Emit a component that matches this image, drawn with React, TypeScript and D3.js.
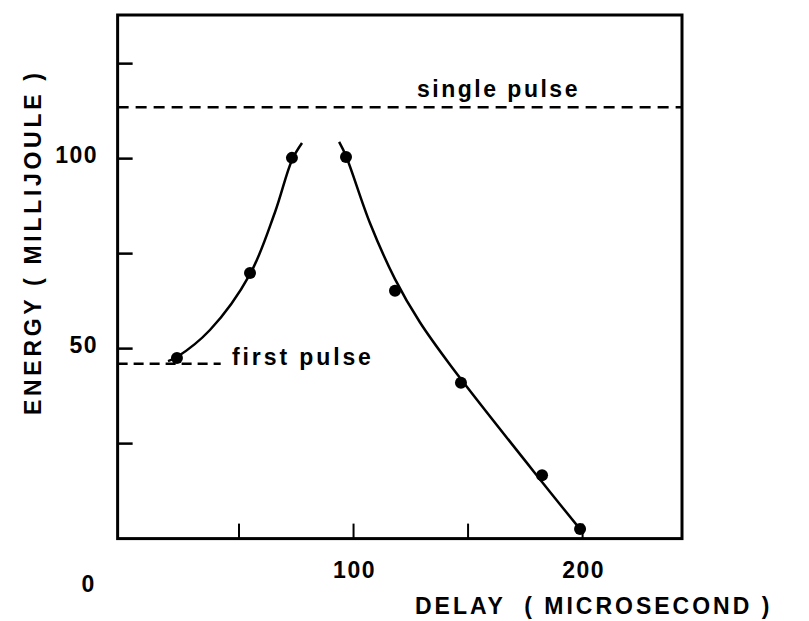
import React from 'react';
import * as d3 from 'd3';

// measured points (delay in microseconds, energy in millijoule)
const delays = [22.9, 54.8, 73.1, 96.7, 118.1, 146.9, 182.3, 198.9];
const energies = [47.5, 69.9, 100.2, 100.4, 65.2, 41.0, 16.7, 2.5];

// hand-drawn curves
const leftCurveX = [19.0, 22.9, 37.3, 54.8, 65.7, 73.1, 77.5];
const leftCurveY = [46.7, 47.8, 54.9, 69.6, 85.9, 99.6, 104.1];
const rightCurveX = [93.7, 96.7, 107.2, 118.1, 128.9, 142.2, 182.3, 198.9];
const rightCurveY = [104.4, 100.7, 83.0, 68.3, 57.0, 45.7, 14.9, 2.5];

const singlePulse = 113.5;
const firstPulse = 46;
const firstPulseEnd = 42;

const xTicks = [50, 100, 150, 200];
const xTickLabels = [100, 200];
const yTicks = [25, 50, 75, 100, 125];
const yTickLabels = [50, 100];

const font = "'Liberation Sans', Arial, sans-serif";

const App = () => {
  const width = 809;
  const height = 621;

  const x = d3.scaleLinear().domain([0, 243.4]).range([124.5, 682]);
  const y = d3.scaleLinear().domain([0, 137.8]).range([538.6, 15]);

  const left = x(-3);
  const right = x(243.4);
  const top = y(137.8);
  const bottom = y(0);

  const line = d3.line<[number, number]>()
    .x(d => x(d[0]))
    .y(d => y(d[1]))
    .curve(d3.curveCatmullRom.alpha(0.5));

  const leftPts = leftCurveX.map((v, i) => [v, leftCurveY[i]] as [number, number]);
  const rightPts = rightCurveX.map((v, i) => [v, rightCurveY[i]] as [number, number]);

  return (
    <svg width={width} height={height} style={{ position: 'absolute', left: 0, top: 0, background: '#fff' }}>
      {/* frame */}
      <rect x={left} y={top} width={right - left} height={bottom - top}
        fill="none" stroke="#000" strokeWidth={3} />

      {/* ticks */}
      {yTicks.map(t => (
        <line key={'yt' + t} x1={left} x2={left + 15} y1={y(t)} y2={y(t)} stroke="#000" strokeWidth={2.5} />
      ))}
      {xTicks.map(t => (
        <line key={'xt' + t} x1={x(t)} x2={x(t)} y1={bottom} y2={bottom - 15} stroke="#000" strokeWidth={2} />
      ))}

      {/* tick labels */}
      {yTickLabels.map(t => (
        <text key={'yl' + t} x={98} y={y(t) + 4} textAnchor="end" fontFamily={font}
          fontWeight="bold" fontSize={23} letterSpacing={1.5}>{t}</text>
      ))}
      {xTickLabels.map(t => (
        <text key={'xl' + t} x={x(t) + 1} y={578} textAnchor="middle" fontFamily={font}
          fontWeight="bold" fontSize={23} letterSpacing={1.5}>{t}</text>
      ))}
      <text x={88} y={592} textAnchor="middle" fontFamily={font} fontWeight="bold" fontSize={23}>0</text>

      {/* reference lines */}
      <line x1={left} x2={right} y1={y(singlePulse)} y2={y(singlePulse)}
        stroke="#000" strokeWidth={2.5} strokeDasharray="11 7" />
      <line x1={left} x2={x(firstPulseEnd)} y1={y(firstPulse)} y2={y(firstPulse)}
        stroke="#000" strokeWidth={2.5} strokeDasharray="10 6" />

      <text x={417} y={97} fontFamily={font} fontWeight="bold" fontSize={23} letterSpacing={2.5}>single pulse</text>
      <text x={232} y={365} fontFamily={font} fontWeight="bold" fontSize={23} letterSpacing={2.9}>first pulse</text>

      {/* curves */}
      <path d={line(leftPts) ?? ''} fill="none" stroke="#000" strokeWidth={2.5} />
      <path d={line(rightPts) ?? ''} fill="none" stroke="#000" strokeWidth={2.5} />

      {/* points */}
      {delays.map((d, i) => (
        <circle key={'p' + i} cx={x(d)} cy={y(energies[i])} r={6} fill="#000" />
      ))}

      {/* axis titles */}
      <text x={415} y={614} fontFamily={font} fontWeight="bold" fontSize={23} letterSpacing={3}
        style={{ whiteSpace: 'pre' }}>{'DELAY  ( MICROSECOND )'}</text>
      <text transform="translate(41,415) rotate(-90)" fontFamily={font} fontWeight="bold" fontSize={23}
        letterSpacing={3.7} style={{ whiteSpace: 'pre' }}>{'ENERGY ( MILLIJOULE )'}</text>
    </svg>
  );
};

export default App;
